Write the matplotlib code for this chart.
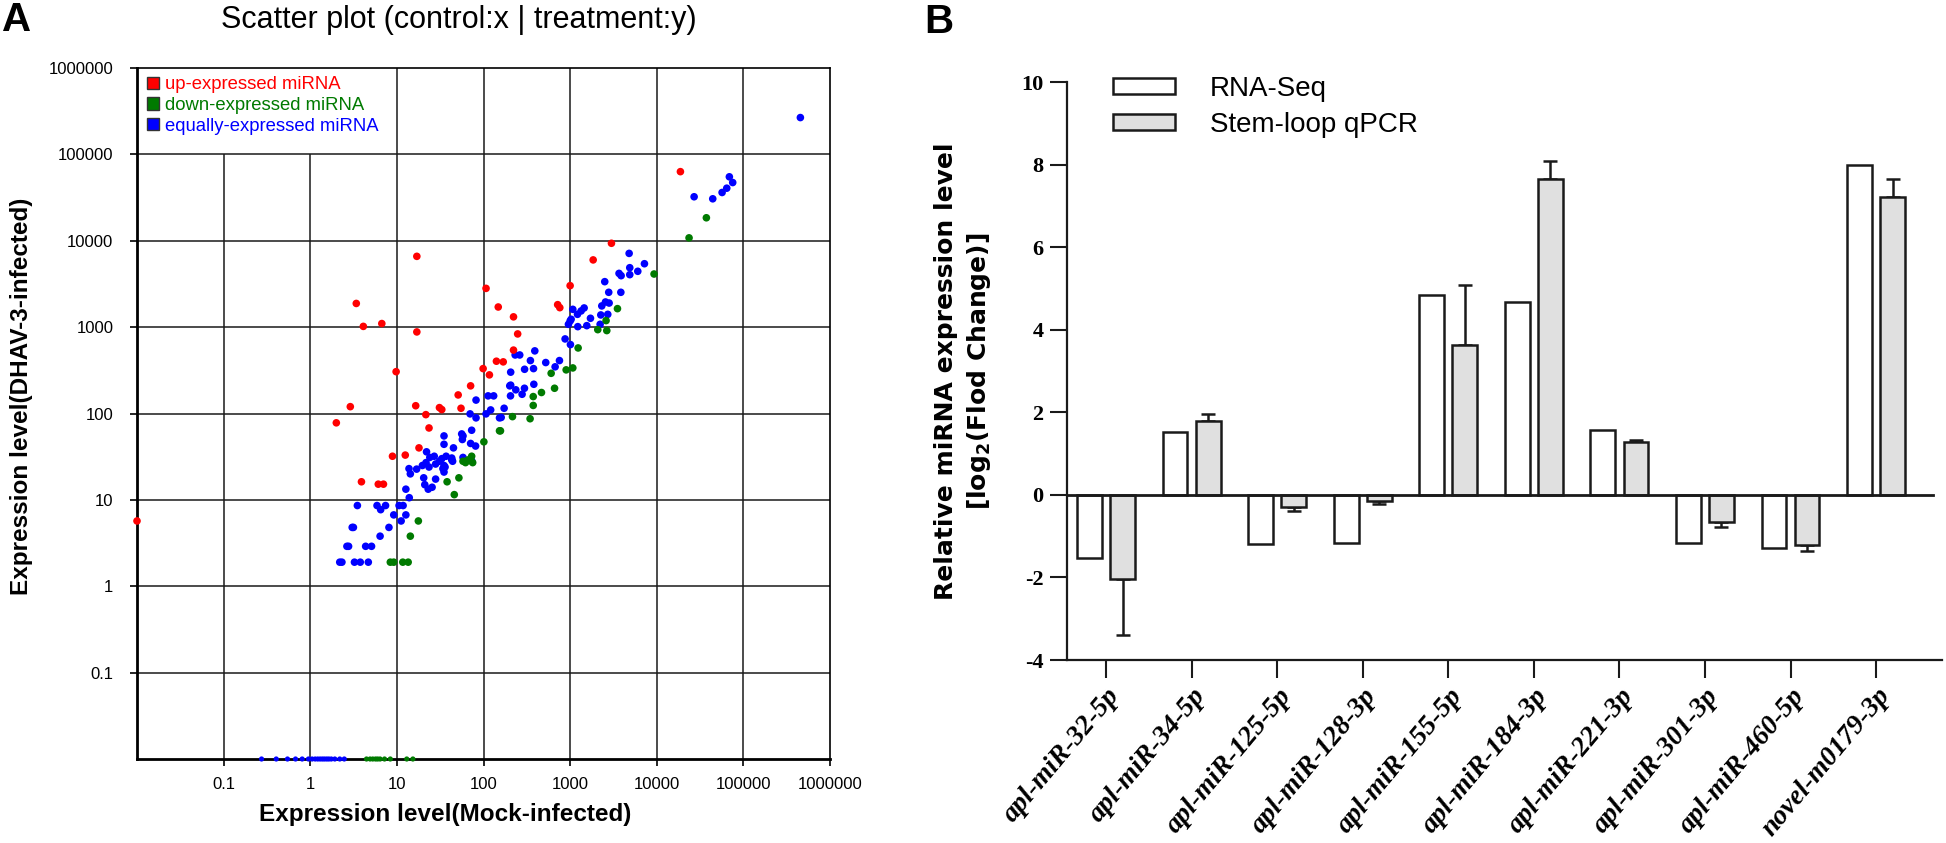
import numpy as np
import matplotlib.pyplot as plt
from matplotlib.patches import Patch

plt.rcParams['font.family'] = ['Liberation Sans', 'DejaVu Sans']
plt.rcParams['mathtext.fontset'] = 'custom'
plt.rcParams['mathtext.bf'] = 'DejaVu Sans:bold'
plt.rcParams['mathtext.rm'] = 'DejaVu Sans:bold'

# ---------------- A: scatter (control x / treatment y) ----------------
up_x = [0.01, 2.0, 2.9, 3.4, 4.1, 6.7, 3.9, 6.1, 7.0, 8.9, 9.8, 12.5, 17, 17, 16.5,
        18, 21.6, 23.5, 31, 33, 51, 55, 71, 99, 117, 107, 148, 141, 169, 222,
        248, 222, 1000, 718, 760, 1845, 3000, 18760]
up_y = [5.7, 78, 120, 1880, 1020, 1100, 16.2, 15.2, 15.2, 32, 305, 33, 6600, 880, 123,
        40, 97, 68, 117, 111, 164, 115, 209, 331, 280, 2810, 1710, 403, 396, 1315,
        834, 542, 3020, 1820, 1680, 6000, 9350, 63100]

down_x = [8.4, 9.2, 11.7, 13.5, 17.7, 14.3, 38, 46, 52, 58, 62, 70, 75, 66, 73, 101,
          153, 157, 216, 345, 375, 375, 467, 661, 604, 900, 1074, 1237, 2085, 2600,
          2650, 3520, 9310, 23600, 37400]
down_y = [1.9, 1.9, 1.9, 1.9, 5.7, 3.8, 16.2, 11.5, 18, 28, 27, 28.5, 27, 29, 32, 47,
          63, 63, 92, 87, 124, 157, 175, 196, 292, 320, 337, 574, 935, 1190,
          912, 1637, 4120, 10800, 18450]

equal_x = [2.19, 2.32, 3.24, 3.78, 4.68, 2.65, 2.77, 4.36, 5.1, 3.05, 3.15, 3.5, 5.9, 7.4,
           6.5, 6.4, 8.1, 9.2, 10.6, 11.8, 12.7, 11.2, 13.9, 12.7, 13.8, 14.3, 16.9,
           20.4, 21, 28, 23, 25.5, 22, 19.7, 24, 27, 21.7, 23.5, 28, 31, 35, 34, 35, 36,
           37, 33, 43, 43, 44, 45, 35, 35, 57, 56, 58, 71, 81, 58, 73, 73, 82, 70, 107,
           82, 121, 113, 131, 153, 173, 160, 201, 205, 206, 236, 297, 279, 381, 206,
           232, 262, 298, 348, 378, 391, 523, 671, 753, 875, 1008, 1074, 1216, 1340,
           1451, 1000, 956, 1027, 1226, 1557, 1717, 2220, 2260, 2320, 2560, 2820, 2720,
           2510, 2790, 3850, 3670, 3880, 4800, 4880, 4880, 6040, 7210,
           27000, 44300, 56800, 64300, 68900, 75300, 455000]
equal_y = [1.9, 1.9, 1.9, 1.9, 1.9, 2.9, 2.9, 2.9, 2.9, 4.8, 4.8, 8.6, 8.6, 8.6,
           7.7, 3.8, 4.8, 6.7, 8.6, 8.6, 6.7, 5.7, 10.6, 13.3, 23, 20, 22.7,
           18, 15, 17.4, 13.3, 14, 36, 25, 31, 32, 27, 24, 26, 28, 25, 23, 21, 24,
           32, 30, 30.5, 29, 28, 40, 55, 44, 50, 58, 55, 45, 42, 31, 28.4, 64, 89, 99, 99,
           143, 110, 160, 160, 89, 115, 90, 209, 160, 213, 188, 196, 167, 218, 301,
           476, 476, 325, 410, 331, 531, 389, 347, 410, 730, 628, 1607, 1407, 1540,
           1667, 1178, 1078, 1233, 1013, 1040, 1266, 1078, 1384, 1760, 1955, 1900, 1406,
           3360, 2530, 2530, 4190, 3940, 7140, 4875, 4050, 4430, 5420,
           32300, 30600, 36200, 40600, 55000, 47200, 266800]

# miRNAs not detected in the treatment library sit on the floor of the plot
equal_zero_x = [0.274, 0.405, 0.546, 0.676, 0.807, 0.953, 1.05, 1.14, 1.22, 1.3, 1.38,
                1.46, 1.55, 1.64, 1.75, 1.92, 2.19, 2.47]
down_zero_x = [4.46, 4.9, 5.27, 5.67, 6.0, 6.4, 7.2, 8.4, 13, 15.3]
floor_y = 0.01

decades = [0.1, 1, 10, 100, 1000, 10000, 100000, 1000000]
decade_labels = ['0.1', '1', '10', '100', '1000', '10000', '100000', '1000000']

# ---------------- B: RNA-Seq vs stem-loop qPCR ----------------
mirnas = ['apl-miR-32-5p', 'apl-miR-34-5p', 'apl-miR-125-5p', 'apl-miR-128-3p',
          'apl-miR-155-5p', 'apl-miR-184-3p', 'apl-miR-221-3p', 'apl-miR-301-3p',
          'apl-miR-460-5p', 'novel-m0179-3p']
rna_seq = [-1.52, 1.53, -1.18, -1.16, 4.85, 4.67, 1.58, -1.16, -1.28, 7.98]
qpcr = [-2.03, 1.79, -0.30, -0.16, 3.64, 7.64, 1.28, -0.66, -1.22, 7.22]
qpcr_err = [1.37, 0.18, 0.08, 0.07, 1.45, 0.44, 0.05, 0.12, 0.15, 0.42]

W, H = 1946, 843


def px_box(left, top, right, bottom):
    return [left / W, 1 - bottom / H, (right - left) / W, (bottom - top) / H]


fig = plt.figure(figsize=(W / 100, H / 100), dpi=100)

# ======== panel A ========
axA = fig.add_axes(px_box(137, 68, 830, 759))
axA.set_xscale('log')
axA.set_yscale('log')
axA.set_xlim(0.01, 1e6)
axA.set_ylim(0.01, 1e6)

grid_kw = dict(color='#1a1a1a', lw=1.1, zorder=1)
for d in decades[:-1]:
    axA.hlines(d, 0.01, 1e6, **grid_kw)
for d in decades[:-1]:
    # legend box hides the top cells left of x=10
    axA.vlines(d, 0.01, 1e5 if d < 10 else 1e6, **grid_kw)

dot = dict(s=30, edgecolors='none', zorder=3, clip_on=False)
axA.scatter(equal_x, equal_y, c='#0000ff', **dot)
axA.scatter(down_x, down_y, c='#007a00', **dot)
axA.scatter(up_x, up_y, c='#ff0000', **dot)
axA.scatter(equal_zero_x, [floor_y] * len(equal_zero_x), c='#0000ff', s=14,
            edgecolors='none', zorder=3, clip_on=False)
axA.scatter(down_zero_x, [floor_y] * len(down_zero_x), c='#007a00', s=14,
            edgecolors='none', zorder=3, clip_on=False)

axA.minorticks_off()
axA.set_xticks(decades)
axA.set_xticklabels(decade_labels)
axA.set_yticks(decades)
axA.set_yticklabels(decade_labels)
axA.tick_params(axis='both', direction='out', length=5, width=1.2, labelsize=12)
axA.tick_params(axis='x', pad=8)
axA.tick_params(axis='y', pad=12)
for side in ['top', 'right']:
    axA.spines[side].set_linewidth(1.2)
for side in ['left', 'bottom']:
    axA.spines[side].set_linewidth(2)

axA.set_xlabel('Expression level(Mock-infected)', fontsize=17.5, fontweight='bold')
axA.xaxis.set_label_coords(0.444, -0.064)
axA.set_ylabel('Expression level(DHAV-3-infected)', fontsize=17.5, fontweight='bold')
axA.yaxis.set_label_coords(-0.150, 0.525)

handles = [Patch(facecolor='#ff0000', edgecolor='#333333', lw=1),
           Patch(facecolor='#007a00', edgecolor='#333333', lw=1),
           Patch(facecolor='#0000ff', edgecolor='#333333', lw=1)]
axA.legend(handles, ['up-expressed miRNA', 'down-expressed miRNA', 'equally-expressed miRNA'],
           loc='upper left', bbox_to_anchor=(0.014, 0.988), frameon=False, fontsize=13.3,
           handlelength=0.65, handleheight=0.65, handletextpad=0.35, labelspacing=0.2,
           borderpad=0, borderaxespad=0,
           labelcolor=['#ff0000', '#007a00', '#0000ff'])

fig.text(459 / W, 1 - 20 / H, 'Scatter plot (control:x | treatment:y)',
         ha='center', va='center', fontsize=22)
fig.text(17 / W, 1 - 20 / H, 'A', ha='center', va='center', fontsize=29, fontweight='bold')

# ======== panel B ========
axB = fig.add_axes(px_box(1067, 82, 1942, 660))
x = np.arange(len(mirnas))
bw, off = 0.29, 0.193
edge = '#1a1a1a'
axB.bar(x - off, rna_seq, bw, color='white', edgecolor=edge, lw=1.8,
        label='RNA-Seq', zorder=2)
axB.bar(x + off, qpcr, bw, color='#e0e0e0', edgecolor=edge, lw=1.8,
        label='Stem-loop qPCR', zorder=2)
err_lo = [e if v < 0 else 0 for v, e in zip(qpcr, qpcr_err)]
err_hi = [e if v >= 0 else 0 for v, e in zip(qpcr, qpcr_err)]
axB.errorbar(x + off, qpcr, yerr=[err_lo, err_hi], fmt='none', ecolor=edge,
             elinewidth=1.8, capsize=5, capthick=1.8, zorder=1)

axB.set_xlim(-0.456, 9.77)
axB.set_ylim(-4, 10)
axB.axhline(0, xmin=0, xmax=(9.67 + 0.456) / (9.77 + 0.456), color=edge, lw=2, zorder=3)
for side in ['top', 'right']:
    axB.spines[side].set_visible(False)
for side in ['left', 'bottom']:
    axB.spines[side].set_linewidth(1.6)
    axB.spines[side].set_color(edge)

axB.set_yticks(range(-4, 11, 2))
axB.set_yticklabels([str(v) for v in range(-4, 11, 2)], fontfamily='Liberation Serif',
                    fontweight='bold', fontsize=16)
axB.set_xticks(x)
axB.set_xticklabels(mirnas, fontfamily='Liberation Serif', fontweight='bold',
                    fontstyle='italic', fontsize=20, rotation=50, ha='right',
                    rotation_mode='anchor')
axB.tick_params(axis='y', direction='out', length=12, width=1.5, pad=5, color=edge)
axB.tick_params(axis='x', direction='out', length=13, width=1.5, pad=4, color=edge)

axB.set_ylabel('Relative miRNA expression level\n[log$_{\\mathbf{2}}$(Flod Change)]',
               fontsize=18, fontweight='bold', fontfamily='DejaVu Sans', linespacing=1.3)
axB.yaxis.set_label_coords(-0.085, 0.5)

axB.legend(loc='upper left', bbox_to_anchor=(1113 / W, 1 - 76 / H),
           bbox_transform=fig.transFigure, frameon=False, fontsize=20,
           handlelength=2.23, handleheight=0.54, handletextpad=1.26, labelspacing=0.35,
           borderpad=0, borderaxespad=0)

fig.text(939 / W, 1 - 22 / H, 'B', ha='center', va='center', fontsize=29, fontweight='bold')

fig.savefig('out.png', dpi=100)
